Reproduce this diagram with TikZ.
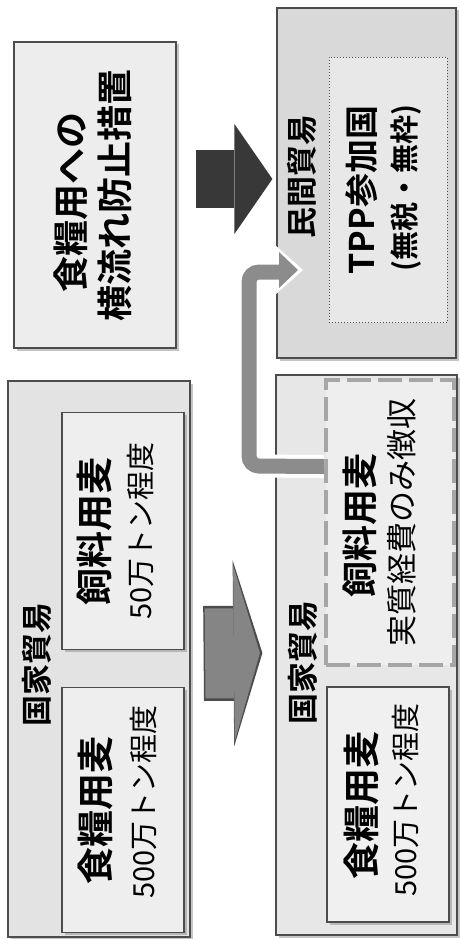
\documentclass[tikz,border=0pt]{standalone}
\usepackage{fontspec}
\newfontfamily\jp{Noto Sans CJK JP}[BoldFont={Noto Sans CJK JP Bold}]
\usetikzlibrary{arrows.meta,shadows}

\newcommand\pts[1]{\fontsize{#1}{#1}\selectfont}

\tikzset{
  box/.style={draw=black!70,line width=1.2pt,inner sep=0pt,
    drop shadow={shadow xshift=2.5pt,shadow yshift=-2.5pt,opacity=.45}},
  lbl/.style={rotate=90,inner sep=0pt,font=\jp\bfseries\pts{#1}},
  subtxt/.style={rotate=90,inner sep=0pt,font=\jp\pts{#1}},
}

\begin{document}
\begin{tikzpicture}[x=1pt,y=-1pt]
\useasboundingbox[fill=white] (0,0) rectangle (459,939);
% left column
\node[box,fill=gray!14,minimum width=162,minimum height=306] (ban) at (95,195) {};
\node[lbl=36] (banA) at (71,202) {食糧用への};
\node[lbl=36] (banB) at (115,195) {横流れ防止措置};
\node[box,fill=gray!22,minimum width=182,minimum height=556] (stateL) at (99,659) {};
\node[box,fill=gray!13,minimum width=122,minimum height=237] (feedL) at (123,531) {};
\node[box,fill=gray!13,minimum width=122,minimum height=245] (foodL) at (123,810) {};
\node[lbl=31] (labL) at (37,664) {国家貿易};
\node[lbl=37] (feedLa) at (95,531) {飼料用麦};
\node[subtxt=29] (feedLb) at (141,531) {50万トン程度};
\node[lbl=37] (foodLa) at (95,810) {食糧用麦};
\node[subtxt=29] (foodLb) at (144,802) {500万トン程度};
% right column
\node[box,fill=gray!30,minimum width=179,minimum height=350] (priv) at (366.5,183) {};
\node[draw=black!70,dotted,line width=1pt,fill=gray!18,minimum width=118,minimum height=265] (tpp) at (388,190) {};
\node[lbl=31] (labC) at (302,176) {民間貿易};
\node[lbl=34] (tppA) at (362,190) {TPP参加国};
\node[lbl=29] (tppB) at (406,188) {(無税・無枠)};
\node[box,fill=gray!19,minimum width=181,minimum height=560] (stateR) at (366.5,655) {};
\node[draw=gray!70,line width=4pt,dash pattern=on 24pt off 7pt,fill=gray!13,minimum width=128,minimum height=285] (feedR) at (390,522.5) {};
\node[box,fill=gray!12,minimum width=122,minimum height=235] (foodR) at (388,804.5) {};
\node[lbl=31] (labR) at (303,662) {国家貿易};
\node[lbl=36] (feedRa) at (360,525) {飼料用麦};
\node[subtxt=31] (feedRb) at (402,522) {実質経費のみ徴収};
\node[lbl=37] (foodRa) at (361,805) {食糧用麦};
\node[subtxt=29] (foodRb) at (406,800) {500万トン程度};
% arrows
\draw[line width=58pt,black!78,-{Triangle[length=38pt,width=110pt,line width=0pt]}]
  ([xshift=19pt,yshift=16pt]ban.east) -- ([xshift=-4pt,yshift=4pt]priv.west);
\draw[line width=95pt,black!70,-{Triangle[length=29pt,width=186pt,line width=0pt]}]
  ([xshift=13pt,yshift=5.5pt]stateL.east) -- ([xshift=-13pt,yshift=2pt]stateR.west);
\draw[line width=90pt,black!48,-{Triangle[length=26pt,width=176pt,line width=0pt]}]
  ([xshift=14.5pt,yshift=5.5pt]stateL.east) -- ([xshift=-15.5pt,yshift=2pt]stateR.west);
\coordinate (bend) at (249,466);
\draw[white,line width=23pt,rounded corners=14pt]
  ([yshift=56pt]feedR.west) -- (bend) -- (249,272) -- (284,272);
\fill[white] (275,245) -- (303,270) -- (275,295) -- cycle;
\draw[black!45,line width=15pt,rounded corners=10pt]
  ([yshift=56pt]feedR.west) -- (bend) -- (249,272) -- (282,272);
\fill[black!45] (279,252) -- (298,270) -- (279,288) -- cycle;
\end{tikzpicture}
\end{document}
